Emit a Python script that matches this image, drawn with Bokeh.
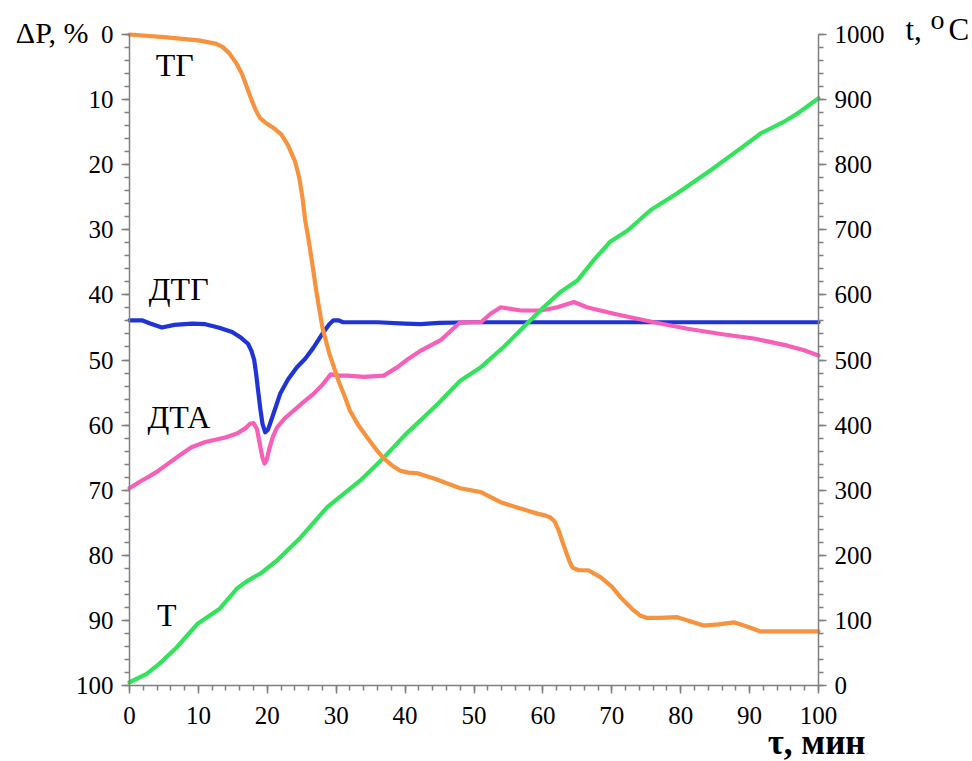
from bokeh.plotting import figure
from bokeh.models import Range1d, LinearAxis, Label, FixedTicker
from bokeh.embed import file_html
from bokeh.resources import INLINE

# --- thermogravimetric curves ------------------------------------------------
# TG: mass loss, % (left axis, inverted)
tg_tau = [0, 5, 10, 12.5, 13.5, 14.5, 15.5, 16.3, 17, 17.7, 18.4, 19, 19.7,
          20.4, 21.2, 22, 23, 24, 24.6, 25.1, 25.5, 26, 26.5, 27.2, 28, 29,
          30.3, 31.2, 32, 33.2, 34.5, 35.7, 36.9, 38.1, 39.3, 40.5, 41.8, 44.2,
          48, 51, 54, 57, 59.2, 60.4, 61.1, 61.7, 62.3, 62.8, 63.3, 63.8, 64.3,
          65.2, 66.6, 68.4, 70, 71.3, 73, 74.2, 75, 77, 79.5, 81, 83.3, 85.5,
          87.7, 89.5, 91.6, 95, 100]
tg_dp = [0.0, 0.4, 0.9, 1.4, 1.9, 2.9, 4.4, 6.0, 8.0, 10.0, 11.8, 12.9, 13.5,
         14.0, 14.6, 15.3, 17.0, 19.4, 21.8, 25.0, 28.5, 31.6, 35.0, 40.0,
         45.0, 49.0, 53.1, 55.5, 57.8, 60.0, 61.9, 63.6, 65.1, 66.2, 67.0,
         67.3, 67.4, 68.2, 69.7, 70.3, 71.9, 72.9, 73.6, 73.9, 74.2, 74.8,
         76.2, 77.8, 79.3, 80.8, 81.9, 82.3, 82.3, 83.4, 84.8, 86.5, 88.3,
         89.3, 89.6, 89.6, 89.5, 90.0, 90.8, 90.6, 90.3, 90.9, 91.7, 91.7,
         91.7]

# DTG (left axis scale)
dtg_tau = [0, 1.8, 3, 4.7, 6.5, 9.1, 11, 12.9, 14.9, 16.2, 17.2, 17.7, 18.1,
           18.4, 18.7, 19.0, 19.3, 19.7, 20.1, 20.4, 21.2, 21.9, 23, 24.3,
           25.5, 26.7, 28.1, 29.0, 29.6, 30.3, 31, 32.5, 36, 40, 42.2, 45, 50,
           100]
dtg_val = [43.9, 43.9, 44.4, 45.0, 44.6, 44.4, 44.5, 45.0, 45.7, 46.6, 47.5,
           48.6, 50.0, 52.3, 55.0, 57.6, 59.8, 61.1, 60.7, 59.8, 57.3, 55.1,
           53.0, 51.1, 49.8, 48.1, 45.8, 44.5, 43.9, 43.9, 44.2, 44.2, 44.2,
           44.4, 44.5, 44.3, 44.2, 44.2]

# DTA (left axis scale)
dta_tau = [0, 1.5, 3, 4.2, 5.5, 7.6, 9, 11, 13.9, 15.6, 16.8, 17.5, 18.0,
           18.5, 19, 19.3, 19.6, 19.9, 20.3, 20.8, 21.4, 22.5, 23.8, 25.2,
           26.7, 28, 29.2, 30.5, 31.6, 34, 36.9, 38.9, 40.5, 42.2, 45.1, 48, 51,
           52.4, 53.9, 56.8, 59.7, 62.1, 64.5, 66.4, 70.3, 76.1, 81, 85.8,
           90.6, 95.5, 97.9, 100]
dta_val = [69.7, 68.7, 67.8, 67.0, 66.0, 64.4, 63.4, 62.6, 61.9, 61.3, 60.5,
           59.8, 59.7, 60.6, 63.4, 65.0, 65.9, 65.4, 63.6, 61.8, 60.4, 59.0,
           57.8, 56.5, 55.2, 53.8, 52.2, 52.4, 52.4, 52.6, 52.4, 51.1, 49.8,
           48.6, 47.0, 44.2, 44.2, 42.9, 41.9, 42.4, 42.4, 41.9, 41.1, 41.9,
           42.9, 44.2, 45.2, 46.0, 46.7, 47.8, 48.5, 49.3]

# T: furnace temperature, deg C (right axis)
t_tau = [0, 2.5, 4.4, 6.8, 9.9, 11, 13.1, 15.6, 17, 19, 21.4, 24.8, 28.7,
         33.5, 36.9, 40, 43.2, 44.7, 48, 51, 54.3, 57.7, 60.1, 62.6, 65, 67.5,
         69.8, 72.3, 75.6, 79.5, 84.3, 88.3, 91.6, 95, 97, 100]
t_val = [5, 18, 34, 58, 95, 103, 118, 149, 160, 172, 192, 227, 274, 315, 350,
         385, 417, 432, 468, 489, 520, 556, 581, 605, 622, 655, 682, 699, 730,
         756, 791, 822, 848, 866, 879, 902]

# --- axis ticks --------------------------------------------------------------
x_ticks = list(range(0, 101, 10))
x_minor = list(range(0, 101, 2))
dp_ticks = list(range(0, 101, 10))
dp_minor = list(range(0, 101, 2))
t_ticks = list(range(0, 1001, 100))
t_minor = list(range(0, 1001, 20))

# --- page geometry: the axes box sits inside a full-canvas frame --------------
W, H = 972, 761
BOX_L, BOX_R, BOX_T, BOX_B = 129, 818, 34, 685   # pixel edges of the axes box
X_MIN, X_MAX = 0, 100
DP_MIN, DP_MAX = 0, 100
T_MIN, T_MAX = 0, 1000

kx = (BOX_R - BOX_L) / (X_MAX - X_MIN)
ky = (BOX_B - BOX_T) / (DP_MAX - DP_MIN)
kt = (BOX_B - BOX_T) / (T_MAX - T_MIN)

x_range = Range1d(X_MIN - BOX_L / kx, X_MAX + (W - BOX_R) / kx)
# percent axis grows downwards
y_range = Range1d(DP_MAX + (H - BOX_B) / ky, DP_MIN - BOX_T / ky)
t_range = Range1d(T_MIN - (H - BOX_B) / kt, T_MAX + BOX_T / kt)

SERIF = "Liberation Serif"
AXIS_GREY = "#808080"

p = figure(width=W, height=H, output_backend="svg", toolbar_location=None,
           x_range=x_range, y_range=y_range,
           x_axis_location=None, y_axis_location=None,
           min_border=0, min_border_left=0, min_border_right=0,
           min_border_top=0, min_border_bottom=0)
p.extra_y_ranges = {"temp": t_range}
p.outline_line_color = None
p.grid.visible = False
p.background_fill_color = "white"
p.border_fill_color = "white"

x_axis = LinearAxis(fixed_location=DP_MAX, bounds=(X_MIN, X_MAX))
dp_axis = LinearAxis(fixed_location=X_MIN, bounds=(DP_MIN, DP_MAX))
t_axis = LinearAxis(y_range_name="temp", fixed_location=X_MAX,
                    bounds=(T_MIN, T_MAX))
p.add_layout(x_axis, "below")
p.add_layout(dp_axis, "left")
p.add_layout(t_axis, "right")

x_axis.ticker = FixedTicker(ticks=x_ticks, minor_ticks=x_minor)
dp_axis.ticker = FixedTicker(ticks=dp_ticks, minor_ticks=dp_minor)
t_axis.ticker = FixedTicker(ticks=t_ticks, minor_ticks=t_minor)

for ax in [x_axis, dp_axis, t_axis]:
    ax.axis_line_color = AXIS_GREY
    ax.axis_line_width = 1.5
    ax.major_tick_line_color = AXIS_GREY
    ax.major_tick_line_width = 1.5
    ax.minor_tick_line_color = AXIS_GREY
    ax.minor_tick_line_width = 1.5
    ax.major_tick_in = 0
    ax.major_tick_out = 8
    ax.minor_tick_in = 0
    ax.minor_tick_out = 5
    ax.major_label_text_font = SERIF
    ax.major_label_text_font_size = "25px"
    ax.major_label_text_color = "black"
    ax.major_label_standoff = 8
x_axis.major_label_standoff = 13

# --- curves --------------------------------------------------------------------
line_kw = dict(line_width=4.2, line_join="round", line_cap="round")
p.line(dtg_tau, dtg_val, line_color="#1f33d6", **line_kw)
p.line(dta_tau, dta_val, line_color="#f75fb8", **line_kw)
p.line(t_tau, t_val, line_color="#33e35c", y_range_name="temp", **line_kw)
p.line(tg_tau, tg_dp, line_color="#f7923f", **line_kw)

# --- curve names -------------------------------------------------------------
name_kw = dict(text_font=SERIF, text_font_size="32px", text_color="black",
               text_baseline="alphabetic", y_offset=11)
p.add_layout(Label(x=3.8, y=6.3, text="ТГ", **name_kw))
p.add_layout(Label(x=2.8, y=40.8, text="ДТГ", **name_kw))
p.add_layout(Label(x=2.6, y=60.5, text="ДТА", **name_kw))
p.add_layout(Label(x=4.0, y=90.8, text="Т", **name_kw))

# --- axis titles -------------------------------------------------------------
title_kw = dict(text_font=SERIF, text_color="black", text_baseline="alphabetic")
p.add_layout(Label(x=X_MIN, y=DP_MIN, x_offset=-41, y_offset=2,
                   text="ΔP, %", text_align="right",
                   text_font_size="30px", **title_kw))
p.add_layout(Label(x=X_MAX, y=DP_MIN, x_offset=87, y_offset=5,
                   text="t,", text_font_size="31px", **title_kw))
p.add_layout(Label(x=X_MAX, y=DP_MIN, x_offset=112, y_offset=15,
                   text="o", text_font_size="28px", **title_kw))
p.add_layout(Label(x=X_MAX, y=DP_MIN, x_offset=130, y_offset=5,
                   text="C", text_font_size="31px", **title_kw))
p.add_layout(Label(x=X_MAX, y=DP_MAX, x_offset=47, y_offset=-57,
                   text="τ, мин", text_align="right", text_font_size="35px",
                   text_font_style="bold", **title_kw))

open("out.html", "w").write(file_html(p, INLINE))
